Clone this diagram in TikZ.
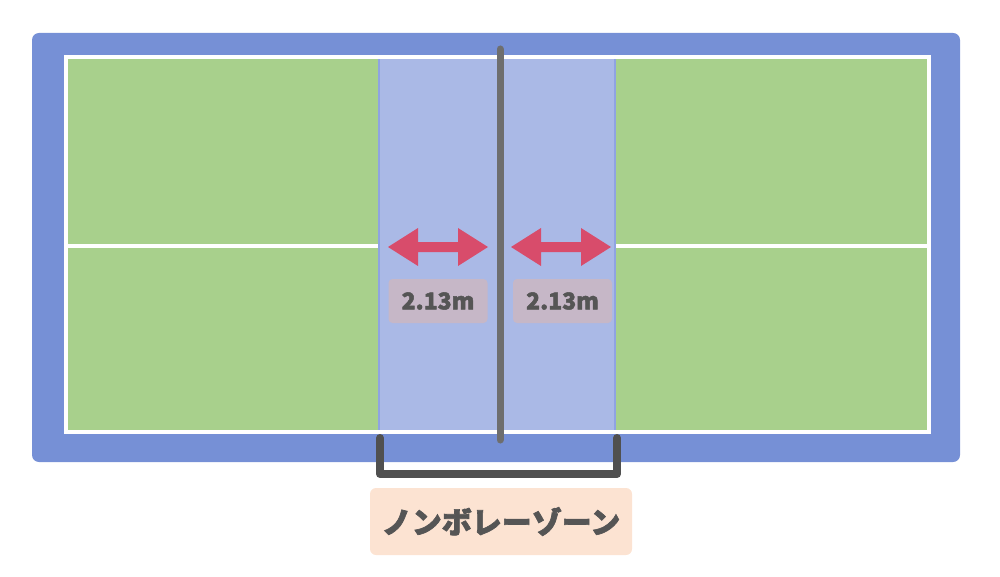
\documentclass[tikz,border=0pt]{standalone}
\usepackage{fontspec}
\newfontfamily\jpfont{Noto Sans CJK JP}[FakeBold=2.2]
\definecolor{outerblue}{HTML}{7690D6}
\definecolor{courtgreen}{HTML}{A8D08C}
\definecolor{kitchen}{HTML}{AAB9E6}
\definecolor{kitchenedge}{HTML}{8FA3E2}
\definecolor{arrowred}{HTML}{D84C6B}
\definecolor{labelbox}{HTML}{C6B7C7}
\definecolor{txtgray}{HTML}{555555}
\definecolor{bracketgray}{HTML}{505050}
\definecolor{zonebox}{HTML}{FCE3D2}
\definecolor{netgray}{HTML}{6E6E6E}
\tikzset{
  courtline/.style={draw=white, line width=3.4pt},
  dimbox/.style={fill=labelbox, rounded corners=4pt, minimum width=99pt, minimum height=44pt, inner sep=0pt, text=txtgray, font=\jpfont\bfseries\fontsize{23}{25}\selectfont},
  zonelabel/.style={fill=zonebox, rounded corners=6pt, minimum width=262pt, minimum height=67pt, inner sep=0pt, text=txtgray, font=\jpfont\bfseries\fontsize{30}{32}\selectfont},
  fatarrow/.style={fill=arrowred, draw=none},
}
\begin{document}
\begin{tikzpicture}[x=1pt,y=-1pt]
\useasboundingbox (0,0) rectangle (1000,577);
% outer surround
\fill[outerblue, rounded corners=7pt] (32,33) rectangle (960,462);
% courts
\fill[courtgreen] (66,57) rectangle (929,432);
\fill[kitchen] (378,57) rectangle (616,432);
\draw[kitchenedge, line width=1.2pt] (379,58) -- (379,431) (615,58) -- (615,431);
% court lines
\draw[courtline] (66,57) rectangle (929,432);
\draw[courtline] (66,246) -- (378,246);
\draw[courtline] (616,246) -- (929,246);
% net
\coordinate (nettop) at (500,49);
\coordinate (netbot) at (500,440);
\draw[netgray, line width=7pt, line cap=round] (nettop) -- (netbot);
% arrows
\fill[fatarrow] (388,247) -- (418,228) -- (418,242) -- (458,242) -- (458,228) -- (488,247) -- (458,266) -- (458,252) -- (418,252) -- (418,266) -- cycle;
\fill[fatarrow] (511,247) -- (541,228) -- (541,242) -- (581,242) -- (581,228) -- (611,247) -- (581,266) -- (581,252) -- (541,252) -- (541,266) -- cycle;
% labels
\node[dimbox] (dimL) at (438,301) {2.13m};
\node[dimbox] (dimR) at (562.5,301) {2.13m};
% bracket
\coordinate (brL) at (380,438);
\coordinate (brR) at (617,438);
\draw[bracketgray, line width=8pt, line cap=round, line join=round] (brL) -- (380,474) -- (617,474) -- (brR);
% zone label
\node[zonelabel] (zone) at (501,521.5) {ノンボレーゾーン};
\end{tikzpicture}
\end{document}
